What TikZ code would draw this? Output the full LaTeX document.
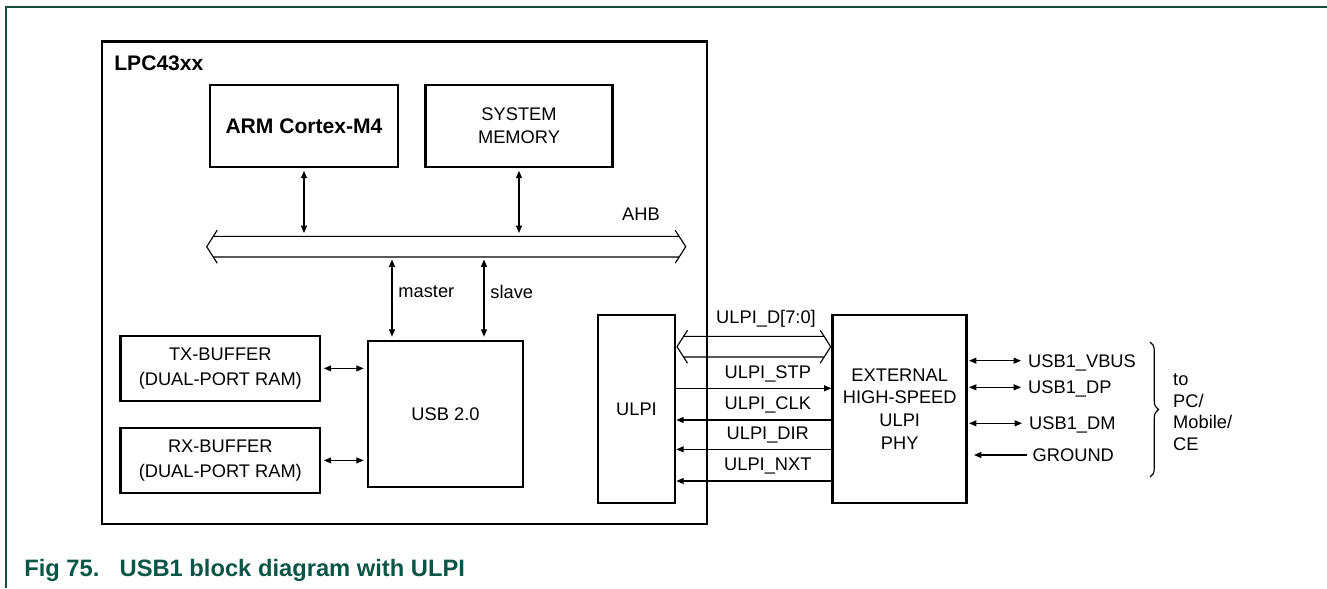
\documentclass[tikz,border=0pt]{standalone}
\usepackage{fontspec}
\setmainfont{Liberation Sans}
\usepackage{xcolor}
\usepackage{tikz}
\usetikzlibrary{arrows.meta,positioning,decorations.pathreplacing,calc}
\definecolor{nxpteal}{RGB}{10,85,70}
\definecolor{framegreen}{RGB}{25,75,60}
\newcommand{\busarrow}[3]{%
  \draw[bus] (#1+10.5,#3-16.5) -- (#1,#3) -- (#1+10.5,#3+16.5)
             (#2-10.5,#3-16.5) -- (#2,#3) -- (#2-10.5,#3+16.5)
             (#1+6.5,#3-10.3) -- (#2-6.5,#3-10.3)
             (#1+6.5,#3+10.3) -- (#2-6.5,#3+10.3);}

\begin{document}
\begin{tikzpicture}[x=0.02cm, y=-0.02cm, font=\fontsize{10.4}{13}\selectfont,
  blk/.style={draw, line width=1.5pt, align=center, inner sep=2pt},
  bus/.style={line width=0.65pt},
  arr/.style={-{Triangle[length=4.2pt,width=3.4pt]}, line width=0.65pt},
  darr/.style={{Triangle[length=4.2pt,width=3.4pt]}-{Triangle[length=4.2pt,width=3.4pt]}, line width=0.65pt, shorten <=0.05cm, shorten >=0.06cm},
  sig/.style={anchor=west, text height=0.72em, text depth=0pt},
  figcap/.style={anchor=base west, inner sep=0pt, text=nxpteal, font=\bfseries\fontsize{13.5}{16}\selectfont}]
  \useasboundingbox (0,0) rectangle (1327,588);
  \draw[framegreen, line width=1.1pt] (6.3,588) -- (6.3,7.3) -- (1327,7.3);

  \node[blk, minimum width=12.1cm, minimum height=9.65cm] (chip) at (404.5,282.75) {};
  \node[anchor=base west, inner sep=0pt, font=\bfseries\fontsize{12}{14}\selectfont] (chipname) at (114,71) {LPC43xx};
  \node[blk, minimum width=3.76cm, minimum height=1.64cm, font=\bfseries\fontsize{12}{14}\selectfont] (arm) at (304,126) {ARM Cortex-M4};
  \node[blk, minimum width=3.75cm, minimum height=1.64cm] (mem) at (519,126) {SYSTEM\\MEMORY};
  \node[blk, minimum width=3.1cm, minimum height=2.92cm] (usb) at (445.5,414) {USB 2.0};
  \node[blk, minimum width=3.99cm, minimum height=1.3cm, font=\fontsize{10.4}{14}\selectfont] (tx) at (220.3,368.4) {TX-BUFFER\\(DUAL-PORT RAM)};
  \node[blk, minimum width=3.99cm, minimum height=1.3cm, font=\fontsize{10.4}{14}\selectfont] (rx) at (220.3,460.4) {RX-BUFFER\\(DUAL-PORT RAM)};
  \node[blk, minimum width=1.54cm, minimum height=3.76cm] (ulpi) at (636.5,409) {ULPI};
  \node[blk, minimum width=2.68cm, minimum height=3.76cm] (phy) at (899.7,409) {EXTERNAL\\HIGH-SPEED\\ULPI\\PHY};

  \busarrow{206.7}{685.7}{246.7}
  \node (ahb) at (641,214) {AHB};
  \coordinate (ahbtop) at (0,236); \coordinate (mst) at (392,257); \coordinate (slv) at (484,257);
  \draw[darr] (arm) -- (arm |- ahbtop); \draw[darr] (mem) -- (mem |- ahbtop);
  \draw[darr] (mst) -- (mst |- usb.north) node[pos=0.42, right] {master};
  \draw[darr] (slv) -- (slv |- usb.north) node[pos=0.42, right] {slave};
  \draw[darr] (tx) -- (tx -| usb.west); \draw[darr] (rx) -- (rx -| usb.west);

  \busarrow{677}{830.7}{346.7}
  \node (ulpid) at (766,319) {ULPI\_D[7:0]};
  \coordinate (stp) at (0,388.3); \coordinate (clk) at (0,420); \coordinate (dir) at (0,449.3); \coordinate (nxt) at (0,481);
  \draw[arr] (ulpi.east |- stp) -- (phy.west |- stp) node[pos=0.59, above] {ULPI\_STP};
  \draw[arr] (phy.west |- clk) -- (ulpi.east |- clk) node[pos=0.41, above] {ULPI\_CLK};
  \draw[arr] (phy.west |- dir) -- (ulpi.east |- dir) node[pos=0.41, above] {ULPI\_DIR};
  \draw[arr] (phy.west |- nxt) -- (ulpi.east |- nxt) node[pos=0.41, above] {ULPI\_NXT};

  \node[sig] (vbus) at (1022,360.7) {USB1\_VBUS};
  \node[sig] (dp) at (1022,387.3) {USB1\_DP};
  \node[sig] (dm) at (1023,423.3) {USB1\_DM};
  \node[sig] (gnd) at (1026.5,455) {GROUND};
  \draw[darr, shorten <=0.02cm, shorten >=0.02cm] (phy.east |- vbus) -- (vbus.west);
  \draw[darr, shorten <=0.02cm, shorten >=0.02cm] (phy.east |- dp) -- (dp.west);
  \draw[darr, shorten <=0.02cm, shorten >=0.02cm] (phy.east |- dm) -- (dm.west);
  \draw[arr, shorten >=0.12cm] (gnd.west) -- (gnd.west -| phy.east);
  \draw[bus, decorate, decoration={brace, amplitude=0.17cm}] (1150,342) -- (1150,477);
  \node[anchor=west, align=left, font=\fontsize{10.4}{12.3}\selectfont] (host) at (1167,412) {to\\PC/\\Mobile/\\CE};

  \node[figcap] (fignum) at (24,576.7) {Fig 75.};
  \node[figcap] (figtitle) at (119.3,576.7) {USB1 block diagram with ULPI};
\end{tikzpicture}
\end{document}
